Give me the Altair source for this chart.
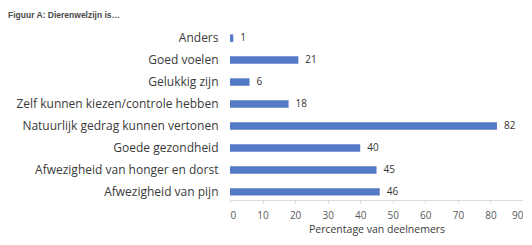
import altair as alt
import pandas as pd

categories = [
    "Anders",
    "Goed voelen",
    "Gelukkig zijn",
    "Zelf kunnen kiezen/controle hebben",
    "Natuurlijk gedrag kunnen vertonen",
    "Goede gezondheid",
    "Afwezigheid van honger en dorst",
    "Afwezigheid van pijn",
]
values = [1, 21, 6, 18, 82, 40, 45, 46]
x_ticks = [0, 10, 20, 30, 40, 50, 60, 70, 80, 90]

df = pd.DataFrame({"cat": categories, "val": values})

FONT = "Liberation Sans"
LFONT = "Open Sans"

y_enc = alt.Y(
    "cat:N",
    sort=categories,
    title=None,
    scale=alt.Scale(paddingInner=0.66, paddingOuter=0.2),
    axis=alt.Axis(
        labelFont=LFONT,
        labelFontSize=12,
        labelColor="#3a3a3a",
        labelPadding=12,
        labelLimit=400,
        ticks=False,
        domain=False,
        grid=False,
    ),
)
x_enc = alt.X(
    "val:Q",
    title="Percentage van deelnemers",
    scale=alt.Scale(domain=[0, 90], nice=False),
    axis=alt.Axis(
        values=x_ticks,
        grid=False,
        domainColor="#d9d9d9",
        tickColor="#d9d9d9",
        tickSize=3,
        labelFont=LFONT,
        labelFontSize=10,
        labelColor="#595959",
        labelPadding=7,
        titleFont=LFONT,
        titleFontSize=10.5,
        titleFontWeight="normal",
        titleColor="#3a3a3a",
        titlePadding=4,
    ),
)

base = alt.Chart(df).encode(y=y_enc, x=x_enc)
bars = base.mark_bar(color="#5479c6")
labels = base.mark_text(
    align="left", dx=7, font=LFONT, fontSize=10, color="#333333"
).encode(text="val:Q")

chart = (
    (bars + labels)
    .properties(
        width=293,
        height=170,
        padding={"left": 222, "top": 22, "right": 0, "bottom": 37},
        autosize=alt.AutoSizeParams(type="none"),
        title=alt.TitleParams(
            "Figuur A: Dierenwelzijn is…",
            anchor="start",
            frame="group",
            dx=-222,
            font=FONT,
            fontSize=8.5,
            fontWeight="bold",
            color="#4a4a4a",
            offset=11,
        ),
    )
    .configure_view(stroke=None)
)

chart.save("out.html", embed_options={"renderer": "svg", "actions": False})
